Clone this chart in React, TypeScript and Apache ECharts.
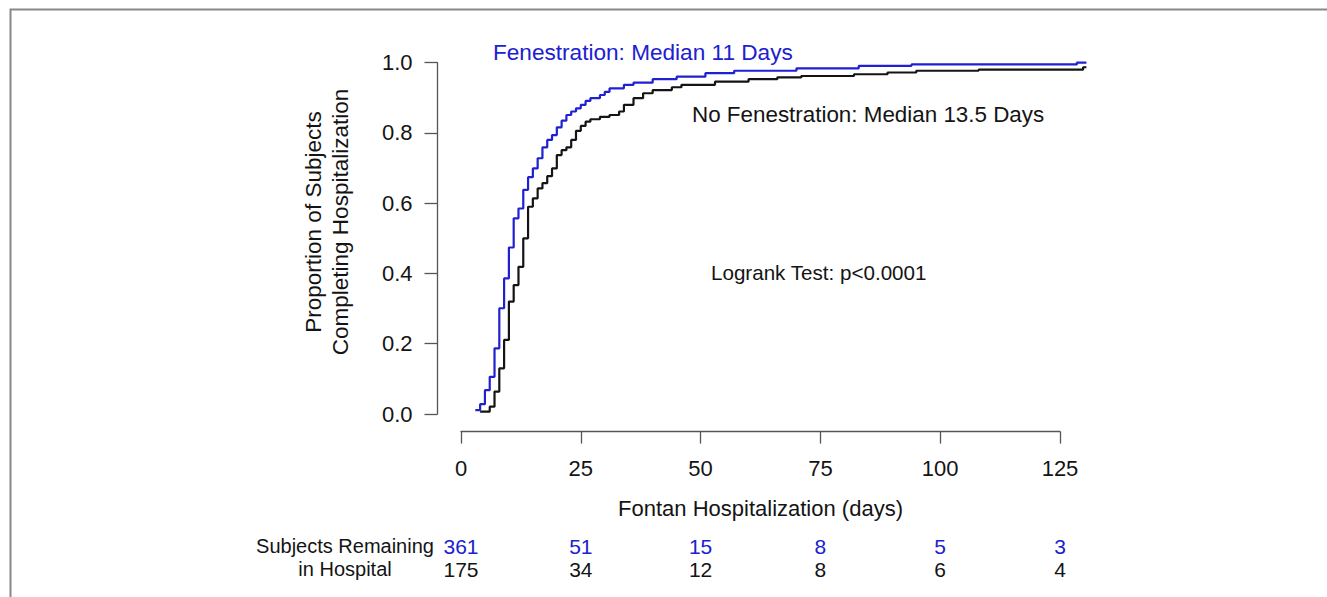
import React, { useEffect, useRef } from "react";
import * as echarts from "echarts";

// Kaplan-Meier style step curves (day, cumulative proportion discharged)
const fenDays = [3, 4, 5, 6, 7, 8, 9, 10, 11, 12, 13, 14, 15, 16, 17, 18, 19, 20, 21, 22, 23, 24, 25, 26, 27, 29, 30, 31, 34, 36, 40, 45, 51, 57, 70, 83, 94, 128.5, 130.5];
const fenProb = [0.011, 0.028, 0.068, 0.106, 0.187, 0.301, 0.386, 0.474, 0.557, 0.585, 0.638, 0.674, 0.699, 0.728, 0.759, 0.78, 0.794, 0.816, 0.835, 0.851, 0.861, 0.87, 0.88, 0.891, 0.899, 0.908, 0.917, 0.927, 0.937, 0.943, 0.953, 0.96, 0.97, 0.977, 0.984, 0.991, 0.995, 1.0, 1.0];

const noFenDays = [4, 6, 7, 8, 9, 10, 11, 12, 13, 14, 15, 16, 17, 18, 19, 20, 21, 22, 23, 24, 25, 26, 27, 29, 31, 33, 34, 36, 38, 40, 44, 46, 53, 60, 66, 71, 82, 89, 95, 108, 129.8, 130.5];
const noFenProb = [0.007, 0.021, 0.064, 0.13, 0.211, 0.32, 0.367, 0.419, 0.5, 0.59, 0.614, 0.642, 0.657, 0.677, 0.699, 0.737, 0.751, 0.759, 0.78, 0.806, 0.82, 0.832, 0.839, 0.846, 0.851, 0.861, 0.88, 0.899, 0.913, 0.922, 0.93, 0.937, 0.946, 0.953, 0.958, 0.962, 0.967, 0.972, 0.977, 0.98, 0.987, 0.987];

const xTicks = [0, 25, 50, 75, 100, 125];
const fenRemaining = [361, 51, 15, 8, 5, 3];
const noFenRemaining = [175, 34, 12, 8, 6, 4];

const FONT = "'Liberation Sans', Arial, sans-serif";
const BLUE = "#2020d0";
const BLACK = "#141414";
const AXIS = "#555555";

export default function App() {
  const ref = useRef<HTMLDivElement>(null);

  useEffect(() => {
    if (!ref.current) return;
    const chart = echarts.init(ref.current, undefined, { renderer: "svg" });

    const fenData = fenDays.map((d, i) => [d, fenProb[i]]);
    const noFenData = noFenDays.map((d, i) => [d, noFenProb[i]]);
    const tickIndex = (v: number) => xTicks.indexOf(v);

    const hidden = { show: false };

    chart.setOption({
      animation: false,
      backgroundColor: "#ffffff",
      grid: [
        { left: 437, top: 45.1, width: 671, height: 386.5 },
        { left: 461, top: 45.1, width: 599, height: 386.5 },
        { left: 437.5, top: 62.7, width: 670, height: 351.3 },
      ],
      xAxis: [
        { type: "value", gridIndex: 0, min: -5, max: 135, ...hidden },
        {
          type: "value",
          gridIndex: 1,
          min: 0,
          max: 125,
          interval: 25,
          axisLine: { show: true, lineStyle: { color: AXIS, width: 1.3 } },
          axisTick: { show: true, length: 12, lineStyle: { color: AXIS, width: 1.3 } },
          axisLabel: { margin: 26, fontSize: 22, color: BLACK, fontFamily: FONT },
          splitLine: { show: false },
          name: "Fontan Hospitalization (days)",
          nameLocation: "middle",
          nameGap: 66,
          nameTextStyle: { fontSize: 22, color: BLACK, fontFamily: FONT },
        },
        {
          type: "value",
          gridIndex: 1,
          min: 0,
          max: 125,
          interval: 25,
          offset: 100,
          position: "bottom",
          axisLine: { show: false },
          axisTick: { show: false },
          splitLine: { show: false },
          axisLabel: {
            margin: 4,
            fontSize: 21,
            color: BLUE,
            fontFamily: FONT,
            formatter: (v: number) => String(fenRemaining[tickIndex(v)]),
          },
        },
        {
          type: "value",
          gridIndex: 1,
          min: 0,
          max: 125,
          interval: 25,
          offset: 123,
          position: "bottom",
          axisLine: { show: false },
          axisTick: { show: false },
          splitLine: { show: false },
          axisLabel: {
            margin: 4,
            fontSize: 21,
            color: BLACK,
            fontFamily: FONT,
            formatter: (v: number) => String(noFenRemaining[tickIndex(v)]),
          },
        },
        { type: "value", gridIndex: 2, min: 0, max: 1, ...hidden },
      ],
      yAxis: [
        { type: "value", gridIndex: 0, min: -0.05, max: 1.05, ...hidden },
        { type: "value", gridIndex: 1, min: 0, max: 1, ...hidden },
        {
          type: "value",
          gridIndex: 2,
          min: 0,
          max: 1,
          interval: 0.2,
          axisLine: { show: true, lineStyle: { color: AXIS, width: 1.3 } },
          axisTick: { show: true, length: 13, lineStyle: { color: AXIS, width: 1.3 } },
          axisLabel: {
            margin: 25,
            fontSize: 22,
            color: BLACK,
            fontFamily: FONT,
            formatter: (v: number) => v.toFixed(1),
          },
          splitLine: { show: false },
        },
      ],
      series: [
        {
          name: "No Fenestration",
          type: "line",
          xAxisIndex: 0,
          yAxisIndex: 0,
          step: "end",
          symbol: "none",
          data: noFenData,
          lineStyle: { color: BLACK, width: 2.2 },
        },
        {
          name: "Fenestration",
          type: "line",
          xAxisIndex: 0,
          yAxisIndex: 0,
          step: "end",
          symbol: "none",
          data: fenData,
          lineStyle: { color: BLUE, width: 2.2 },
        },
      ],
      graphic: [
        {
          type: "polyline",
          shape: { points: [[10.5, 597], [10.5, 9.5], [1327, 9.5]] },
          style: { stroke: "#888888", lineWidth: 2, fill: "none" },
        },
        {
          type: "text",
          x: 327,
          y: 222,
          rotation: Math.PI / 2,
          style: {
            text: "Proportion of Subjects\nCompleting Hospitalization",
            align: "center",
            verticalAlign: "middle",
            fontSize: 22.5,
            lineHeight: 27,
            fill: BLACK,
            fontFamily: FONT,
          },
        },
        {
          type: "text",
          x: 493,
          y: 52,
          style: { text: "Fenestration: Median 11 Days", align: "left", verticalAlign: "middle", fontSize: 22.6, fill: BLUE, fontFamily: FONT },
        },
        {
          type: "text",
          x: 692,
          y: 114,
          style: { text: "No Fenestration: Median 13.5 Days", align: "left", verticalAlign: "middle", fontSize: 22.4, fill: BLACK, fontFamily: FONT },
        },
        {
          type: "text",
          x: 711,
          y: 272,
          style: { text: "Logrank Test: p<0.0001", align: "left", verticalAlign: "middle", fontSize: 20.6, fill: BLACK, fontFamily: FONT },
        },
        {
          type: "text",
          x: 345,
          y: 546,
          style: { text: "Subjects Remaining", align: "center", verticalAlign: "middle", fontSize: 20, fill: BLACK, fontFamily: FONT },
        },
        {
          type: "text",
          x: 345,
          y: 569,
          style: { text: "in Hospital", align: "center", verticalAlign: "middle", fontSize: 20, fill: BLACK, fontFamily: FONT },
        },
      ],
    });

    return () => chart.dispose();
  }, []);

  return (
    <div
      ref={ref}
      style={{ position: "fixed", left: 0, top: 0, width: 1327, height: 597, background: "#ffffff" }}
    />
  );
}
